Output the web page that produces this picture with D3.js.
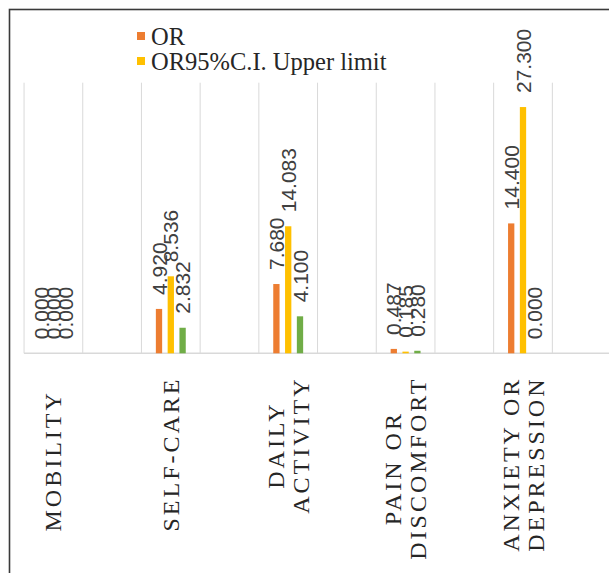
<!DOCTYPE html>
<html>
<head>
<meta charset="utf-8">
<script src="https://cdn.jsdelivr.net/npm/d3@7"></script>
<style>
  html, body { margin: 0; padding: 0; background: #fff; }
  svg { display: block; }
</style>
</head>
<body>
<svg id="chart" width="609" height="573"></svg>
<script>
// EQ-5D dimensions and odds ratios
const categories = ["MOBILITY", "SELF-CARE", "DAILY ACTIVITY", "PAIN OR DISCOMFORT", "ANXIETY OR DEPRESSION"];
const categoryLines = [["MOBILITY"], ["SELF-CARE"], ["DAILY", "ACTIVITY"], ["PAIN OR", "DISCOMFORT"], ["ANXIETY OR", "DEPRESSION"]];
const seriesNames = ["OR", "OR95%C.I. Upper limit", "OR95%C.I. Lower limit"];
const orValues    = [0.000, 4.920, 7.680, 0.487, 14.400];
const upperValues = [0.000, 8.536, 14.083, 0.185, 27.300];
const lowerValues = [0.000, 2.832, 4.100, 0.280, 0.000];
const seriesColors = ["#ED7D31", "#FFC000", "#70AD47"];
const yDomain = [0, 30];

const series = [orValues, upperValues, lowerValues];
const svg = d3.select("#chart");

const x = d3.scaleBand().domain(categories).range([-5.3, 581.7]);
const inner = d3.scalePoint().domain(d3.range(series.length)).range([-11.8, 11.8]);
const y = d3.scaleLinear().domain(yDomain).range([353.3, 82.7]);
const barW = 6.3;
const center = c => x(c) + x.bandwidth() / 2;

// outer frame (right and bottom run past the canvas)
svg.append("rect")
  .attr("x", 9.5).attr("y", 9.5)
  .attr("width", 800).attr("height", 800)
  .attr("fill", "none").attr("stroke", "#3a3a3a").attr("stroke-width", 1.6);

// vertical gridlines at quarter positions of each category band
const gridX = [];
categories.forEach(c => {
  gridX.push(center(c) - x.bandwidth() / 4, center(c) + x.bandwidth() / 4);
});
svg.append("g").selectAll("line").data(gridX).join("line")
  .attr("x1", d => d).attr("x2", d => d)
  .attr("y1", y(yDomain[1])).attr("y2", y(0))
  .attr("stroke", "#d9d9d9").attr("stroke-width", 1);

// category baseline
svg.append("line")
  .attr("x1", gridX[0]).attr("x2", 640)
  .attr("y1", y(0)).attr("y2", y(0))
  .attr("stroke", "#d9d9d9").attr("stroke-width", 1.5);

// bars
series.forEach((vals, si) => {
  svg.append("g").selectAll("rect").data(vals).join("rect")
    .attr("x", (d, i) => center(categories[i]) + inner(si) - barW / 2)
    .attr("y", d => y(d))
    .attr("width", barW)
    .attr("height", d => y(0) - y(d))
    .attr("fill", seriesColors[si]);
});

// value labels, rotated above each bar
series.forEach((vals, si) => {
  svg.append("g").selectAll("text").data(vals).join("text")
    .attr("transform", (d, i) => {
      const cx = center(categories[i]) + inner(si);
      return `translate(${cx},${y(d) - 14}) rotate(-90)`;
    })
    .attr("text-anchor", "start")
    .attr("dominant-baseline", "central")
    .attr("font-family", "'Liberation Sans', Arial, sans-serif")
    .attr("font-size", 21)
    .attr("fill", "#404040")
    .text(d => d3.format(".3f")(d));
});

// category labels, rotated; wrapped labels hang from the axis,
// single-line labels rest on a common bottom line
const catG = svg.append("g");
const lineH = 25, axisGap = 378, bottomLine = 530;
categoryLines.forEach((lines, i) => {
  const cx = center(categories[i]);
  const texts = lines.map((ln, li) => catG.append("text")
    .attr("font-family", "'Liberation Serif', 'Times New Roman', serif")
    .attr("font-size", 24)
    .attr("letter-spacing", 3)
    .attr("fill", "#262626")
    .attr("text-anchor", "middle")
    .attr("dominant-baseline", "central")
    .text(ln));
  const maxLen = d3.max(texts, t => t.node().getComputedTextLength()) - 3;
  const mid = lines.length === 1 ? bottomLine - maxLen / 2 : axisGap + maxLen / 2;
  texts.forEach((t, li) => {
    const lx = cx + (li - (lines.length - 1) / 2) * lineH;
    t.attr("transform", `translate(${lx},${mid}) rotate(-90)`);
  });
});

// legend
const legend = svg.append("g");
seriesNames.slice(0, 2).forEach((name, i) => {
  legend.append("rect")
    .attr("x", 137).attr("y", 32 + i * 25)
    .attr("width", 8).attr("height", 8)
    .attr("fill", seriesColors[i]);
  legend.append("text")
    .attr("x", 151).attr("y", 45 + i * 25)
    .attr("font-family", "'Liberation Serif', 'Times New Roman', serif")
    .attr("font-size", 24.5)
    .attr("fill", "#262626")
    .text(name);
});
</script>
</body>
</html>
